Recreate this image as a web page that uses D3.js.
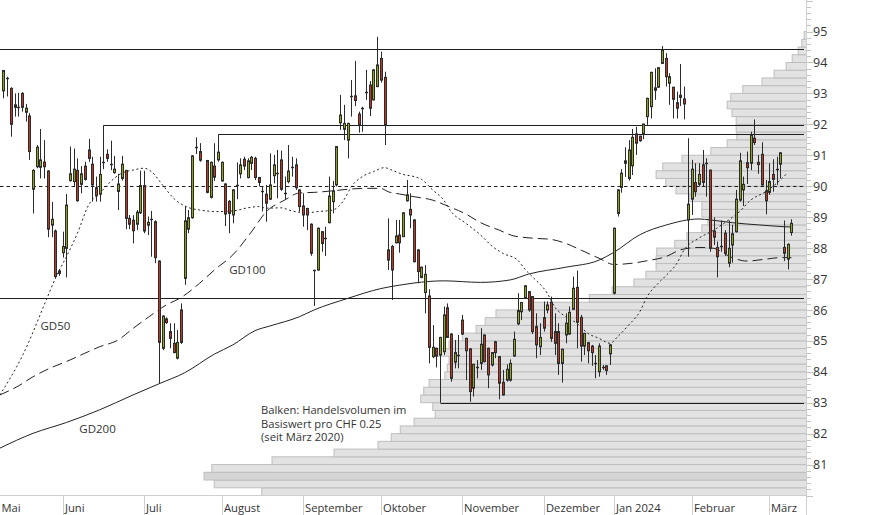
<!DOCTYPE html>
<html><head><meta charset="utf-8">
<script src="https://cdn.jsdelivr.net/npm/d3@7/dist/d3.min.js"></script>
<style>
body{margin:0;background:#fff}
svg{display:block}
text{font-family:"Open Sans",sans-serif}
</style>
</head><body>
<svg id="chart" width="874" height="515"></svg>
<script>
// ---- DATA ----
// trading-day index (0 = 1 Juni 2023), open, high, low, close
const candles = [
[-16,93.08,93.74,92.84,93.74],[-15,93.49,93.54,92.90,93.49],[-14,93.16,93.20,91.60,92.00],[-13,92.55,93.00,92.25,92.63],
[-12,92.55,93.02,92.25,92.55],[-11,93.00,93.04,92.41,92.55],[-10,92.39,92.66,92.09,92.52],[-9,92.27,92.36,90.85,91.12],
[-8,89.90,90.55,89.12,90.51],[-7,90.63,91.33,90.58,91.26],[-6,90.61,91.85,90.25,90.85],[-5,90.78,91.49,90.25,90.63],
[-4,90.49,90.52,88.35,88.61],[-3,88.74,89.49,88.35,88.93],[-2,88.55,88.60,87.02,87.08],[-1,87.26,87.30,87.10,87.18],
[0,87.85,88.53,87.69,88.05],[1,87.99,89.75,87.05,89.39],[2,90.18,91.28,90.15,90.40],[3,90.15,91.22,89.99,90.55],
[4,90.51,90.90,89.50,89.53],[5,90.06,90.65,89.77,90.40],[6,90.65,90.79,90.18,90.22],[7,91.17,91.53,90.79,90.90],
[8,90.71,90.95,89.50,90.04],[9,89.95,90.31,89.50,89.69],[10,89.74,90.95,89.50,90.38],[11,90.78,91.97,90.55,90.74],
[12,91.03,91.19,90.79,90.90],[13,90.73,91.47,90.52,90.73],[14,90.44,90.98,90.40,90.55],[15,89.83,90.40,89.23,90.07],
[16,90.25,90.98,90.18,90.71],[17,90.51,90.53,88.61,88.96],[18,88.96,89.07,88.61,88.77],[19,88.90,89.06,88.15,88.56],
[20,88.77,89.23,88.58,89.16],[21,89.14,90.50,89.10,90.02],[22,90.02,90.50,88.48,88.55],[23,88.74,89.02,88.42,88.83],
[24,88.94,89.20,87.72,88.94],[25,88.85,88.90,87.51,87.69],[26,87.58,87.60,83.61,84.95],[27,84.76,85.83,84.70,85.80],
[28,85.71,85.76,85.55,85.59],[29,85.30,85.57,84.76,85.08],[30,84.92,85.57,84.60,84.62],[31,84.44,85.35,84.40,84.95],
[32,86.00,86.21,84.90,84.95],[33,87.02,89.36,86.81,88.88],[34,88.61,89.23,88.48,88.98],[35,88.98,91.00,88.95,90.98],
[36,91.28,91.58,91.04,91.28],[37,91.12,91.39,90.79,90.84],[39,90.83,90.85,89.77,89.80],[40,89.64,90.80,89.60,90.77],
[41,90.65,91.39,90.17,90.29],[42,90.85,91.68,90.79,91.10],[43,90.17,90.80,90.15,90.77],[44,90.07,90.10,88.71,89.10],
[45,89.51,89.55,88.48,89.12],[46,89.07,89.90,88.80,89.88],[47,90.03,90.77,89.58,90.03],[48,90.40,90.90,90.25,90.69],
[49,90.87,90.95,90.52,90.65],[50,90.28,90.90,90.25,90.82],[51,90.74,90.98,90.52,90.93],[52,90.90,90.95,90.20,90.28],
[53,90.28,90.30,89.99,90.12],[54,89.85,89.99,89.18,89.85],[55,89.74,90.04,88.85,89.45],[56,89.58,91.06,89.55,90.04],
[57,90.34,91.01,90.09,90.69],[58,90.44,91.17,89.61,90.44],[59,90.85,91.15,89.85,89.90],[60,89.77,90.31,89.55,89.77],
[61,90.15,91.33,90.09,90.49],[62,90.63,90.95,90.31,90.63],[63,90.69,90.90,89.88,89.95],[64,89.88,89.90,89.18,89.34],
[65,89.36,89.77,88.69,89.07],[66,89.28,89.30,88.58,89.07],[67,88.77,88.80,87.75,87.83],[68,87.29,87.30,86.13,87.29],
[69,87.29,88.66,87.27,88.64],[70,88.53,88.55,87.88,88.15],[71,88.32,88.69,87.74,88.32],[72,88.82,90.31,88.80,89.68],
[73,89.50,90.17,89.12,89.85],[74,90.04,91.30,89.99,91.28],[75,92.05,92.95,91.82,92.30],[76,91.84,92.63,91.49,92.03],
[77,91.49,92.05,90.90,92.03],[78,92.90,93.43,92.25,92.90],[79,92.92,94.05,92.59,92.77],[80,92.33,92.41,91.73,91.98],
[81,92.52,92.57,91.76,92.52],[82,93.06,93.76,92.79,93.06],[83,93.27,93.40,92.27,92.52],[84,92.79,93.78,92.77,93.76],
[85,93.22,94.83,93.20,93.92],[86,94.13,94.35,93.35,93.43],[87,93.52,93.70,91.33,91.98],[88,87.94,88.96,87.29,87.61],
[89,88.05,88.10,86.32,87.29],[90,88.17,88.91,88.15,88.39],[91,88.42,88.91,87.85,88.17],[92,88.37,89.15,88.35,89.14],
[93,89.53,90.20,89.50,89.72],[94,89.25,89.77,88.64,89.07],[95,88.91,88.93,87.53,87.56],[96,87.94,87.96,86.86,87.24],
[97,87.05,87.40,87.02,87.38],[98,86.56,87.45,85.89,87.15],[99,86.45,86.67,84.27,84.79],[100,84.49,85.51,84.44,84.79],
[101,84.76,84.78,84.14,84.51],[102,84.54,85.13,83.00,85.11],[103,84.65,86.11,84.54,85.84],[104,86.07,86.21,85.10,85.11],
[105,85.22,85.25,83.68,83.79],[106,84.31,85.03,84.11,84.62],[107,84.54,85.19,84.11,84.54],[108,85.67,85.84,85.19,85.22],
[109,85.08,85.10,83.73,84.68],[110,84.74,84.76,83.03,83.36],[111,83.47,84.26,83.20,84.24],[112,84.14,84.38,83.79,84.14],
[113,84.27,85.41,84.06,84.89],[114,85.19,85.20,84.30,84.33],[115,84.76,84.78,83.47,83.90],[116,84.22,84.64,84.17,84.62],
[117,84.97,85.00,84.44,84.62],[118,84.49,84.51,83.11,83.63],[119,83.66,84.06,83.23,83.25],[120,83.73,84.24,83.68,84.08],
[121,83.73,84.40,83.68,84.27],[122,84.51,85.30,84.49,85.05],[123,85.55,86.54,85.51,85.98],[124,85.94,86.26,85.67,86.24],
[125,86.38,86.80,86.36,86.78],[126,86.59,86.61,85.94,86.00],[127,86.43,86.45,85.22,85.30],[128,85.46,85.89,84.44,84.87],
[129,84.81,85.57,84.54,85.11],[130,85.75,86.27,85.30,85.41],[131,86.00,86.27,85.89,86.16],[132,86.25,86.43,84.97,85.08],
[133,85.30,85.89,84.54,84.92],[134,85.30,85.57,83.90,84.27],[135,84.27,84.75,83.65,84.73],[136,85.19,85.89,84.92,85.57],
[137,85.22,86.11,85.19,85.92],[138,86.02,87.08,86.00,86.70],[139,86.73,87.27,84.76,85.60],[140,85.76,85.84,84.33,84.83],
[141,84.83,85.26,84.54,85.24],[142,84.94,84.96,84.27,84.68],[143,84.83,84.87,84.19,84.62],[144,84.27,84.54,83.79,84.27],
[145,84.00,84.92,83.84,84.83],[146,84.17,84.22,84.06,84.17],[147,84.19,84.21,83.90,84.04],[148,84.58,84.90,84.22,84.87],
[149,86.54,88.66,86.50,88.64],[150,89.12,89.90,89.02,89.88],[151,89.96,90.55,89.79,90.42],[152,90.74,91.26,90.30,90.82],
[153,90.25,91.49,90.18,91.17],[154,90.66,91.85,90.36,91.58],[155,91.69,91.92,91.01,91.39],[156,91.62,91.63,91.44,91.47],
[157,91.69,92.02,91.52,92.01],[158,92.25,92.86,91.98,92.84],[159,92.57,93.70,92.19,93.68],[160,93.10,93.81,92.79,93.18],
[161,93.20,93.85,93.18,93.83],[162,93.97,94.53,93.95,94.40],[163,94.13,94.30,93.22,93.54],[164,93.33,93.65,92.63,93.54],
[165,93.20,93.20,92.19,92.81],[166,92.70,93.06,92.19,92.52],[167,92.87,93.95,92.59,92.94],[168,92.82,93.22,92.16,92.66],
[169,88.91,91.55,87.72,89.42],[170,89.58,90.85,89.07,90.55],[171,90.12,90.74,89.66,89.82],[172,90.06,90.74,89.99,90.38],
[173,90.69,91.17,89.99,90.12],[174,90.74,90.90,89.66,90.74],[175,90.52,90.53,87.88,87.99],[176,88.55,88.99,88.10,88.35],
[177,88.02,88.21,87.05,87.72],[178,88.07,88.89,87.88,88.07],[179,88.48,88.58,87.74,87.83],[180,87.51,88.89,87.38,87.99],
[181,88.10,88.75,87.53,88.46],[182,88.53,89.88,88.50,89.58],[183,89.55,91.08,89.50,90.82],[184,89.88,90.31,89.36,90.06],
[185,90.76,91.12,90.07,90.60],[186,90.74,91.76,90.52,91.66],[187,91.55,92.16,91.33,91.41],[188,90.77,91.01,90.40,90.70],
[189,91.03,91.42,90.02,90.04],[190,89.85,90.20,89.09,89.53],[191,89.80,90.74,89.72,90.15],[192,90.38,90.87,89.82,90.22],
[193,90.55,90.95,90.04,90.55],[194,90.71,91.10,90.25,91.08],[195,88.02,88.89,87.58,87.83],[196,87.64,88.15,87.31,88.12],
[197,88.50,88.93,88.40,88.80]
];

// moving averages: [trading-day index, value]
const gd50 = [[-17,83.25],[-11,84.49],[-4,86.45],[-2,87.02],[1,87.72],[4,88.48],[7,89.39],[10,89.77],[14,90.26],[16,90.42],
[19,90.52],[22,90.58],[24,90.47],[27,90.04],[30,89.61],[33,89.36],[37,89.23],[42,89.18],[46,89.20],[50,89.30],[53,89.34],
[55,89.29],[59,89.30],[62,89.20],[66,89.14],[69,89.18],[73,89.23],[76,89.55],[78,89.98],[81,90.31],[84,90.47],[87,90.60],
[89,90.52],[92,90.38],[95,90.31],[97,90.22],[100,89.88],[103,89.55],[105,89.18],[109,88.80],[113,88.42],[116,88.07],
[119,87.83],[123,87.61],[125,87.31],[127,87.07],[131,86.54],[133,86.10],[136,85.78],[139,85.57],[142,85.24],[145,85.08],
[148,84.92],[150,85.13],[153,85.51],[156,85.94],[158,86.43],[161,86.86],[163,87.10],[166,87.50],[168,87.94],[172,88.32],
[176,88.58],[179,88.82],[183,89.18],[186,89.55],[190,89.82],[194,90.20],[196,90.44]];
const gd100 = [[-17,83.25],[-12,83.54],[-8,83.84],[-3,84.14],[1,84.33],[6,84.60],[10,84.81],[15,85.03],[19,85.40],[23,85.75],
[28,86.16],[32,86.40],[37,86.86],[41,87.29],[46,87.78],[51,88.52],[55,89.17],[60,89.55],[64,89.78],[68,89.80],[73,89.85],
[77,89.90],[82,89.93],[86,89.93],[88,89.82],[91,89.75],[95,89.66],[100,89.55],[104,89.36],[109,89.10],[113,88.82],
[118,88.58],[122,88.39],[127,88.32],[132,88.28],[136,88.15],[140,87.94],[145,87.67],[149,87.47],[154,87.51],[158,87.59],
[163,87.72],[167,87.94],[172,88.02],[176,87.99],[181,87.69],[185,87.58],[190,87.64],[194,87.69],[197,87.69]];
const gd200 = [[-17,81.53],[-8,82.01],[1,82.36],[10,82.77],[19,83.25],[26,83.61],[33,83.97],[41,84.57],[46,84.87],[52,85.33],
[56,85.48],[64,85.78],[68,86.00],[77,86.37],[86,86.69],[91,86.80],[95,86.87],[103,86.94],[113,86.89],[121,86.97],
[126,87.16],[136,87.38],[145,87.61],[149,87.86],[156,88.43],[163,88.74],[172,88.94],[175,88.91],[181,88.82],[188,88.75],
[195,88.69],[197,88.68]];

// volume profile: price buckets of CHF 0.25 starting at 80.00 (relative volume)
const volumeBucketStart = 80.0;
const volumeBucketSize = 0.25;
const volumeProfile = [90.4,98.3,100,98.7,88.7,78.4,71.1,68.9,67.4,65.1,61.6,62.0,64.0,63.5,62.6,60.0,59.6,59.3,61.5,59.3,
57.1,54.8,53.3,51.5,45.8,36.0,32.2,28.6,26.6,24.9,24.9,24.8,21.8,19.8,17.3,16.3,17.3,17.3,19.4,21.6,
23.3,24.9,23.8,20.6,15.8,13.1,11.5,11.6,11.6,12.3,13.1,12.5,10.5,7.3,5.3,3.3,2.3,1.3,0.7,0.3];

// horizontal support / resistance lines (value, starting trading day or null = full width)
const levelValues = [94.42, 91.97, 91.68, 90.00, 86.38, 83.00];
const levelStartDays = [null, 11, 42, null, null, 102];
const levelDashed = [false, false, false, true, false, false];

const monthLabels = ["Mai","Juni","Juli","August","September","Oktober","November","Dezember","Jan 2024","Februar","März"];
const monthStartDays = [-20, 0, 22, 43, 65, 86, 108, 130, 149, 170, 191];
const yTickLabels = [81,82,83,84,85,86,87,88,89,90,91,92,93,94,95];

const maLabels = [["GD50", -6, 85.36], ["GD100", 45, 87.16], ["GD200", 4.5, 82.02]];
const noteLines = ["Balken: Handelsvolumen im", "Basiswert pro CHF 0.25", "(seit März 2020)"];

// ---- CHART ----
const W = 874, H = 515, plotR = 806, plotB = 495;
const svg = d3.select("#chart");
const x = d3.scaleLinear().domain([-17, 201]).range([-0.2, 806.2]);
const y = d3.scaleLinear().domain([80, 96]).range([495.5, 0.6]);
const xVol = d3.scaleLinear().domain([0, 100]).range([plotR, plotR - 602]);

svg.append("defs").append("clipPath").attr("id","plotclip")
  .append("rect").attr("x",0).attr("y",0).attr("width",plotR).attr("height",plotB);
const plot = svg.append("g").attr("clip-path","url(#plotclip)");

// volume profile bars
const maxVol = d3.max(volumeProfile);
plot.append("g").selectAll("rect").data(volumeProfile).join("rect")
  .attr("x", d => xVol(d))
  .attr("y", (d,i) => y(volumeBucketStart + (i+1)*volumeBucketSize))
  .attr("width", d => plotR - xVol(d) + 2)
  .attr("height", (d,i) => y(volumeBucketStart + i*volumeBucketSize) - y(volumeBucketStart + (i+1)*volumeBucketSize))
  .attr("fill", d => d === maxVol ? "#d5d5d5" : "#e2e2e2")
  .attr("stroke", "#bebebe").attr("stroke-width", 1);

// level lines
levelValues.forEach((v,i) => {
  const yy = Math.round(y(v)) + 0.5;
  plot.append("line")
    .attr("x1", levelStartDays[i] === null ? 0 : Math.round(x(levelStartDays[i])) + 0.5)
    .attr("x2", plotR - 2).attr("y1", yy).attr("y2", yy)
    .attr("stroke", "#1e1e1e").attr("stroke-width", 1.2)
    .attr("stroke-dasharray", levelDashed[i] ? "3.5,3" : null);
});

// moving averages
const line = d3.line().x(d => x(d[0])).y(d => y(d[1])).curve(d3.curveMonotoneX);
[[gd200, null], [gd100, "10,5"], [gd50, "2,2.6"]].forEach(([data, dash]) => {
  plot.append("path").datum(data).attr("d", line)
    .attr("fill","none").attr("stroke","#222").attr("stroke-width",1)
    .attr("stroke-dasharray", dash);
});

// candles
const cg = plot.append("g");
candles.forEach(([d,o,h,l,c]) => {
  const cx = Math.round(x(d));
  cg.append("line").attr("x1", cx+0.5).attr("x2", cx+0.5)
    .attr("y1", y(h)).attr("y2", y(l)).attr("stroke","#2b2b2b").attr("stroke-width",1);
  const top = y(Math.max(o,c)), bot = y(Math.min(o,c));
  if (bot - top < 1.5) {
    const yy = Math.round(y(o)) + 0.5;
    cg.append("line").attr("x1", cx-1).attr("x2", cx+2).attr("y1", yy).attr("y2", yy)
      .attr("stroke","#2b2b2b").attr("stroke-width",1.4);
  } else {
    cg.append("rect").attr("x", cx-0.5).attr("width", 2)
      .attr("y", top).attr("height", bot-top)
      .attr("fill", c >= o ? "#8fa514" : "#c0381f")
      .attr("stroke","#2b2b2b").attr("stroke-width",1);
  }
});

// axes
svg.append("line").attr("x1",0).attr("x2",plotR).attr("y1",plotB+0.5).attr("y2",plotB+0.5)
  .attr("stroke","#cfcfcf");
svg.append("line").attr("x1",plotR+0.5).attr("x2",plotR+0.5).attr("y1",0).attr("y2",H)
  .attr("stroke","#cfcfcf");
const tickVals = d3.range(0, 81).map(i => 80 + i*0.2);
svg.append("g").selectAll("line").data(tickVals).join("line")
  .attr("x1", plotR+1).attr("x2", (d) => plotR + (Math.abs(d - Math.round(d)) < 1e-6 ? 7 : 5))
  .attr("y1", d => Math.round(y(d))+0.5).attr("y2", d => Math.round(y(d))+0.5)
  .attr("stroke","#c4c4c4");
svg.append("g").selectAll("text").data(yTickLabels).join("text")
  .attr("x", 813).attr("y", d => y(d) + 4.6)
  .attr("font-size", 12.5).attr("fill","#333").text(d => d);

// month separators and labels
monthStartDays.forEach((d,i) => {
  const sx = Math.round(x(d)) + 0.5;
  if (sx > 0) svg.append("line").attr("x1",sx).attr("x2",sx).attr("y1",plotB).attr("y2",H).attr("stroke","#cfcfcf");
  svg.append("text").attr("x", Math.max(1.5, sx + 1.5)).attr("y", 512)
    .attr("font-size", 11.2).attr("fill","#333").text(monthLabels[i]);
});

// MA labels
maLabels.forEach(([t, d, v]) => {
  svg.append("text").attr("x", x(d)).attr("y", y(v)).attr("font-size",11.5).attr("fill","#333").text(t);
});
// note (one text block, three lines)
const note = svg.append("text").attr("x", 261).attr("y", 414).attr("font-size", 11.2).attr("fill","#333");
noteLines.forEach((t,i) => {
  note.append("tspan").attr("x", 261).attr("dy", i === 0 ? 0 : 13.5).text(t);
});
</script>
</body></html>
